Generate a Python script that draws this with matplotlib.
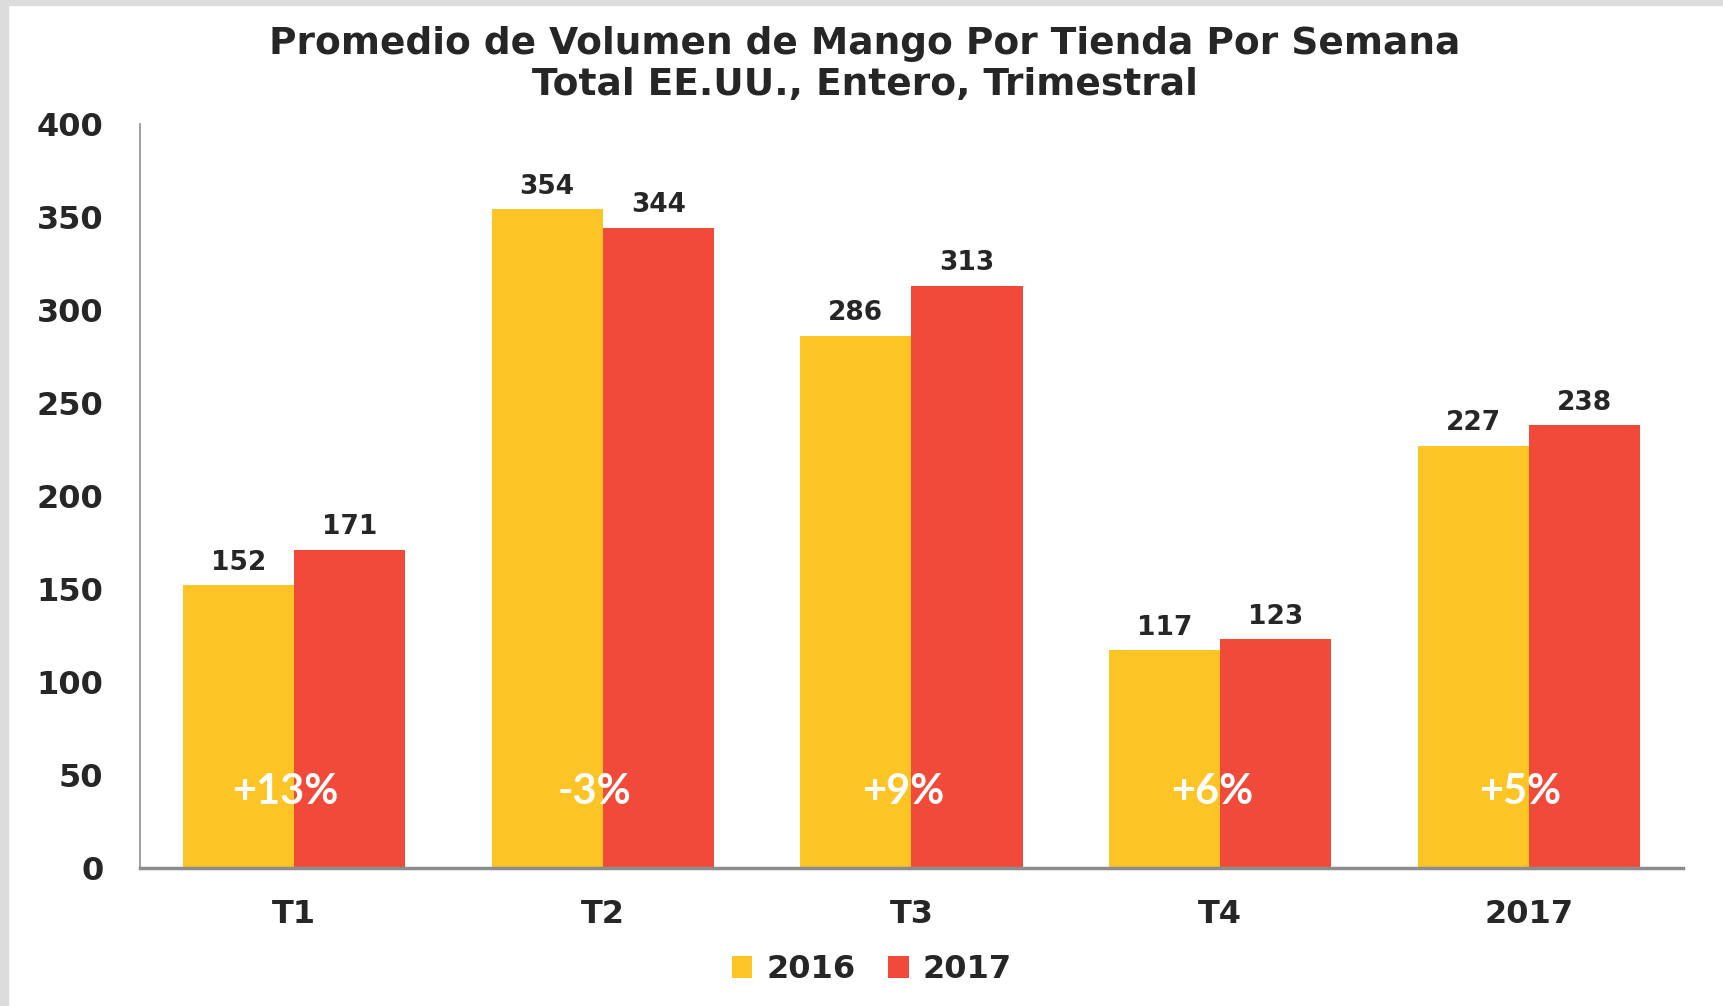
import numpy as np
import matplotlib.pyplot as plt
from matplotlib.patches import Rectangle

categorias = ["T1", "T2", "T3", "T4", "2017"]
vol_2016 = [152, 354, 286, 117, 227]
vol_2017 = [171, 344, 313, 123, 238]
cambio = ["+13%", "-3%", "+9%", "+6%", "+5%"]
series = ["2016", "2017"]

amarillo = "#FDC426"
rojo = "#F24A3A"
oscuro = "#262626"
fuente = "DejaVu Sans"

fig = plt.figure(figsize=(17.23, 10.06), dpi=100)
# franjas grises arriba y a la izquierda
fig.patches.append(Rectangle((0, 0.995), 1, 0.005, transform=fig.transFigure, color="#DCDCDC", zorder=0))
fig.patches.append(Rectangle((0, 0), 0.0047, 1, transform=fig.transFigure, color="#DCDCDC", zorder=0))

ax = fig.add_axes([0.081, 0.137, 0.896, 0.74])
x = np.arange(len(categorias))
w = 0.36
b1 = ax.bar(x - w / 2, vol_2016, w, color=amarillo, label=series[0])
b2 = ax.bar(x + w / 2, vol_2017, w, color=rojo, label=series[1])

for bars in (b1, b2):
    for r in bars:
        ax.annotate(str(int(r.get_height())), (r.get_x() + r.get_width() / 2, r.get_height()),
                    xytext=(0, 7), textcoords="offset points", ha="center", va="bottom",
                    fontsize=19, fontweight="bold", family=fuente, color=oscuro)

for i, c in enumerate(cambio):
    ax.annotate(c, (x[i], 41), xytext=(-6, 0), textcoords="offset points",
                ha="center", va="center", fontsize=30, fontweight="bold",
                family="Lato", color="white")

ax.set_xlim(-0.5, len(categorias) - 0.5)
ax.set_ylim(0, 400)
ax.set_yticks(range(0, 401, 50))
ax.set_xticks(x)
ax.set_xticklabels(categorias)
for s in ["top", "right"]:
    ax.spines[s].set_visible(False)
ax.spines["left"].set_color("#8C8C8C")
ax.spines["left"].set_linewidth(1.2)
ax.spines["bottom"].set_color("#8C8C8C")
ax.spines["bottom"].set_linewidth(2.5)
ax.tick_params(axis="both", length=0)
ax.tick_params(axis="y", pad=26)
ax.tick_params(axis="x", pad=22)
for t in ax.get_yticklabels():
    t.set_fontsize(23)
    t.set_fontweight("bold")
    t.set_family(fuente)
    t.set_color(oscuro)
for t in ax.get_xticklabels():
    t.set_fontsize(23)
    t.set_fontweight("bold")
    t.set_family(fuente)
    t.set_color(oscuro)

fig.text(0.502, 0.936, "Promedio de Volumen de Mango Por Tienda Por Semana\nTotal EE.UU., Entero, Trimestral",
         ha="center", va="center", fontsize=27, fontweight="bold", family=fuente,
         color=oscuro, linespacing=1.2)

leg = fig.legend(handles=[b1, b2], labels=series, loc="center", bbox_to_anchor=(0.506, 0.036),
                 ncol=2, frameon=False, handlelength=0.65, handleheight=0.7, handletextpad=0.45,
                 columnspacing=1.0, prop={"family": fuente, "weight": "bold", "size": 23})
for t in leg.get_texts():
    t.set_color(oscuro)

fig.savefig("out.png", dpi=100)
